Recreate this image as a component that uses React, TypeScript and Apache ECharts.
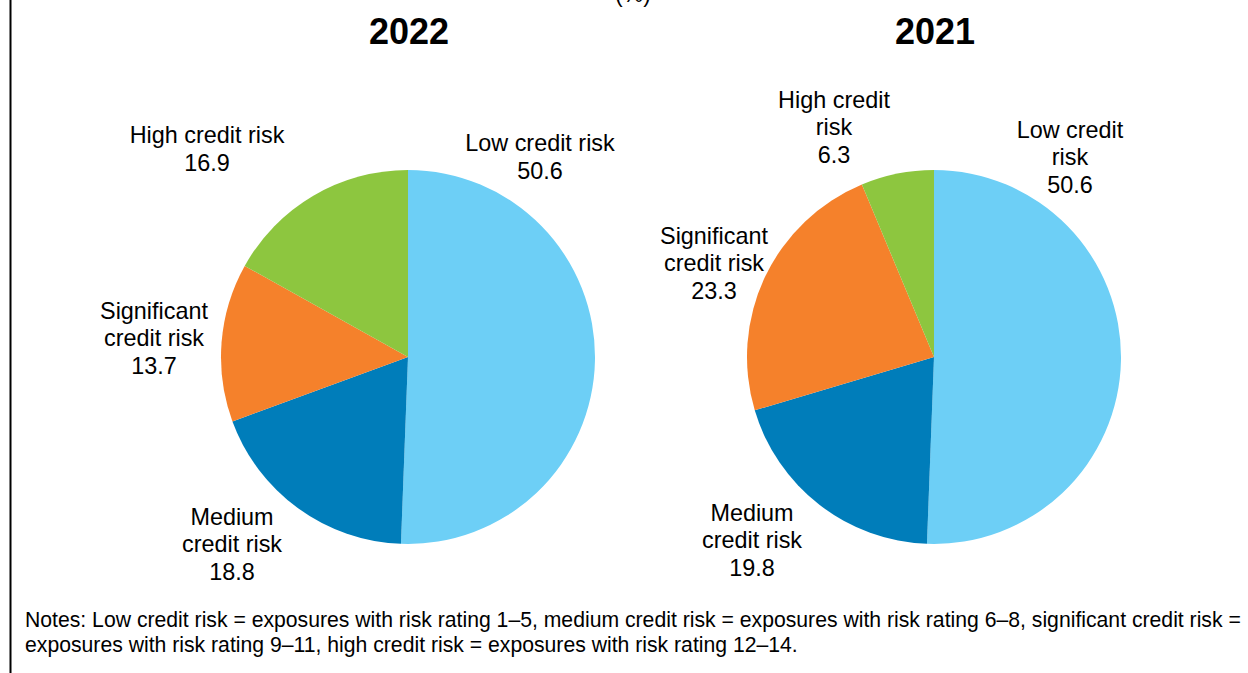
import React, { useEffect, useRef } from "react";
import * as echarts from "echarts";

const categories = ["Low credit risk", "Medium credit risk", "Significant credit risk", "High credit risk"];
const values2022 = [50.6, 18.8, 13.7, 16.9];
const values2021 = [50.6, 19.8, 23.3, 6.3];
const labelNames2022 = ["Low credit risk", "Medium\ncredit risk", "Significant\ncredit risk", "High credit risk"];
const labelNames2021 = ["Low credit\nrisk", "Medium\ncredit risk", "Significant\ncredit risk", "High credit\nrisk"];
const colors = ["#6DCFF6", "#007DBA", "#F5812B", "#8DC63F"];
const titles = ["2022", "2021"];
const notesText =
  "Notes: Low credit risk = exposures with risk rating 1–5, medium credit risk = exposures with risk rating 6–8, significant credit risk =\nexposures with risk rating 9–11, high credit risk = exposures with risk rating 12–14.";

// label anchor positions (centre of each label block), in pixels
const labelPos2022 = [
  [540, 157],
  [232, 544],
  [154, 338],
  [207, 149],
];
const labelPos2021 = [
  [1070, 157],
  [752, 540],
  [714, 263],
  [834, 127],
];

const FONT = "'Liberation Sans', Arial, Helvetica, sans-serif";

export default function App() {
  const ref = useRef<HTMLDivElement>(null);
  useEffect(() => {
    if (!ref.current) return;
    const chart = echarts.init(ref.current, null, { renderer: "svg" });
    const makeSeries = (vals: number[], names: string[], center: number[], pos: number[][]) => ({
      type: "pie",
      center,
      radius: 187,
      startAngle: 90,
      clockwise: true,
      silent: true,
      data: vals.map((v, i) => ({
        value: v,
        name: categories[i],
        itemStyle: { color: colors[i] },
        label: { formatter: names[i] + "\n" + v.toFixed(1) },
      })),
      itemStyle: { borderWidth: 0 },
      label: {
        show: true,
        position: "outside",
        color: "#000",
        fontFamily: FONT,
        fontSize: 23.4,
        lineHeight: 27.5,
        align: "center",
        overflow: "none",
        width: 300,
      },
      labelLine: { show: false },
      labelLayout: (p: any) => ({
        x: pos[p.dataIndex][0],
        y: pos[p.dataIndex][1],
        align: "center",
        verticalAlign: "middle",
      }),
    });
    chart.setOption({
      animation: false,
      backgroundColor: "#fff",
      graphic: [
        {
          type: "line",
          shape: { x1: 10.5, y1: 0, x2: 10.5, y2: 673 },
          style: { stroke: "#000", lineWidth: 2 },
        },
        {
          type: "text",
          x: 633,
          y: -18,
          style: { text: "(%)", font: `23px ${FONT}`, fill: "#000", textAlign: "center", textVerticalAlign: "top" },
        },
        {
          type: "text",
          x: 409,
          y: 31,
          style: { text: titles[0], font: `bold 36px ${FONT}`, fill: "#000", textAlign: "center", textVerticalAlign: "middle" },
        },
        {
          type: "text",
          x: 935,
          y: 31,
          style: { text: titles[1], font: `bold 36px ${FONT}`, fill: "#000", textAlign: "center", textVerticalAlign: "middle" },
        },
        {
          type: "text",
          x: 25,
          y: 607,
          style: { text: notesText, font: `21.2px ${FONT}`, lineHeight: 25, fill: "#000", textAlign: "left", textVerticalAlign: "top" },
        },
      ],
      series: [
        makeSeries(values2022, labelNames2022, [408, 357], labelPos2022),
        makeSeries(values2021, labelNames2021, [934, 357], labelPos2021),
      ],
    });
    return () => chart.dispose();
  }, []);
  return (
    <div
      ref={ref}
      style={{ position: "absolute", left: 0, top: 0, width: 1248, height: 673 }}
    />
  );
}
